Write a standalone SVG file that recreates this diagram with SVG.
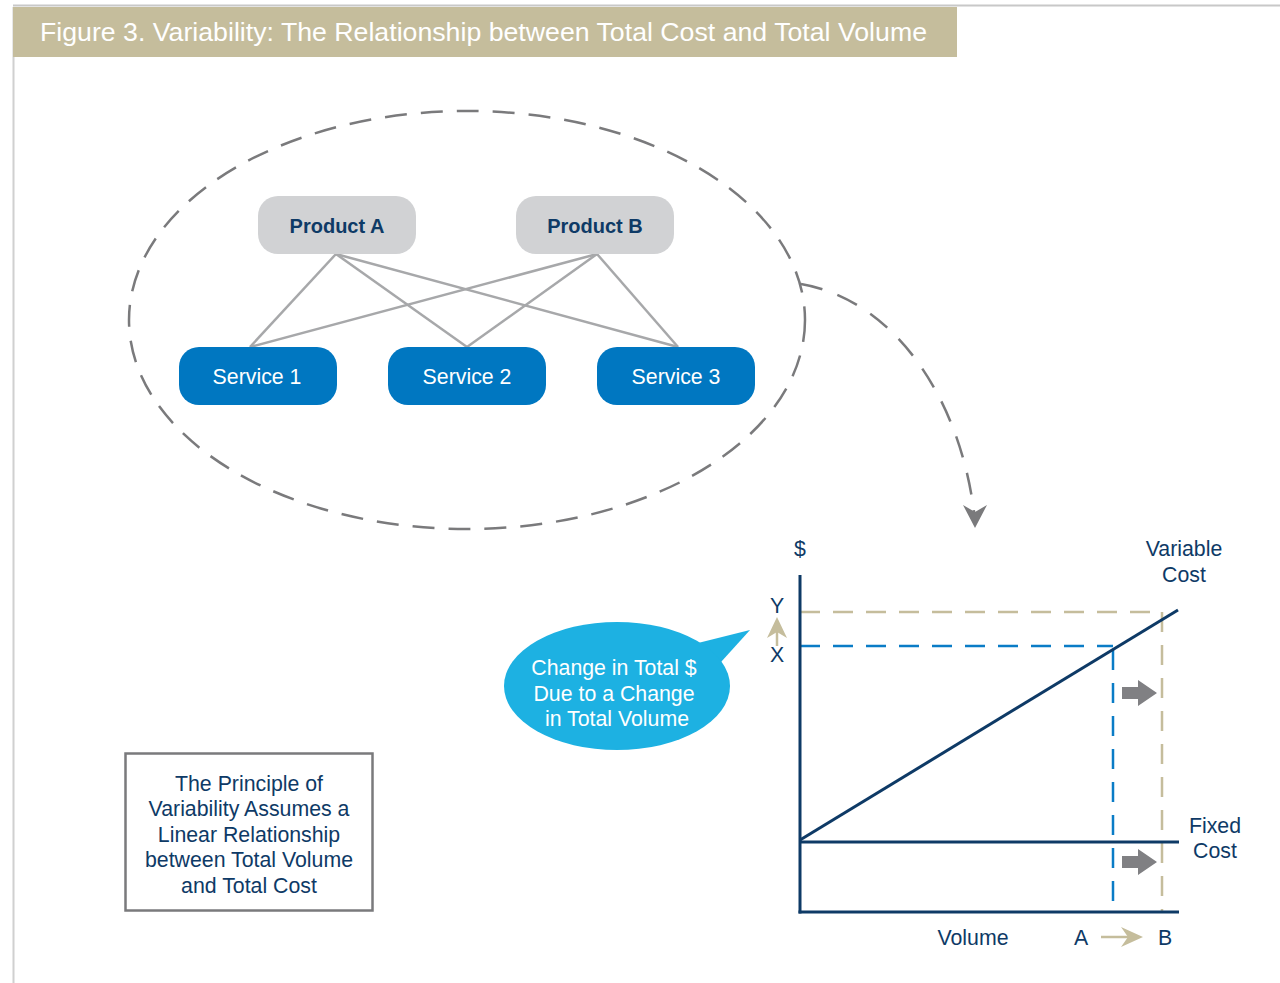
<svg xmlns="http://www.w3.org/2000/svg" width="1280" height="983" viewBox="0 0 1280 983">
<style>
text{font-family:"Liberation Sans",Arial,sans-serif}
.nv{fill:#0E3A66;font-size:21.3px;text-anchor:middle}
.wt{fill:#fff;font-size:21.3px;text-anchor:middle}
.pt{fill:#0E3A66;font-size:20px;font-weight:bold;text-anchor:middle}
.prod{fill:#D1D2D4}
.svc{fill:#0077C1}
.link{stroke:#A7A8AA;stroke-width:2.5;fill:none}
.ax{stroke:#0E3A66;stroke-width:3;fill:none}
</style>
<rect width="1280" height="983" fill="#fff"/>
<g id="frame">
<line x1="13" y1="5.5" x2="1280" y2="5.5" stroke="#C8C8C8" stroke-width="2"/>
<line x1="13.5" y1="7" x2="13.5" y2="983" stroke="#D0D0D0" stroke-width="2"/>
<rect x="13" y="7" width="944" height="50" fill="#C5BD9C"/>
<text x="40" y="41" fill="#fff" font-size="25.5" textLength="887" lengthAdjust="spacingAndGlyphs">Figure 3. Variability: The Relationship between Total Cost and Total Volume</text>
</g>
<g id="connectors">
<ellipse cx="467" cy="320" rx="338" ry="209" fill="none" stroke="#7A7A7C" stroke-width="2.5" stroke-dasharray="22 14"/>
<path d="M801 284 C895 300 962 400 975 520" fill="none" stroke="#7A7A7C" stroke-width="2.5" stroke-dasharray="22 16"/>
<path d="M963 505 L975 528 L987 505 L975 512 Z" fill="#7A7A7C"/>
<line class="link" x1="336" y1="254" x2="250" y2="347"/>
<line class="link" x1="336" y1="254" x2="467" y2="347"/>
<line class="link" x1="336" y1="254" x2="678" y2="347"/>
<line class="link" x1="597" y1="254" x2="250" y2="347"/>
<line class="link" x1="597" y1="254" x2="467" y2="347"/>
<line class="link" x1="597" y1="254" x2="678" y2="347"/>
</g>
<g id="productA"><rect class="prod" x="258" y="196" width="158" height="58" rx="20"/><text class="pt" x="337" y="233">Product A</text></g>
<g id="productB"><rect class="prod" x="516" y="196" width="158" height="58" rx="20"/><text class="pt" x="595" y="233">Product B</text></g>
<g id="service1"><rect class="svc" x="179" y="347" width="158" height="58" rx="20"/><text class="wt" x="257" y="384">Service 1</text></g>
<g id="service2"><rect class="svc" x="388" y="347" width="158" height="58" rx="20"/><text class="wt" x="467" y="384">Service 2</text></g>
<g id="service3"><rect class="svc" x="597" y="347" width="158" height="58" rx="20"/><text class="wt" x="676" y="384">Service 3</text></g>
<g id="principle">
<rect x="125.5" y="753.5" width="247" height="157" fill="#fff" stroke="#7A7A7C" stroke-width="2.5"/>
<text class="nv" x="249" y="791">The Principle of</text>
<text class="nv" x="249" y="816">Variability Assumes a</text>
<text class="nv" x="249" y="842">Linear Relationship</text>
<text class="nv" x="249" y="867">between Total Volume</text>
<text class="nv" x="249" y="893">and Total Cost</text>
</g>
<g id="bubble">
<path d="M698 643 L750 630 L721 662 Z" fill="#1DB1E2"/>
<ellipse cx="617" cy="686" rx="113" ry="64" fill="#1DB1E2"/>
<text class="wt" x="614" y="675">Change in Total $</text>
<text class="wt" x="614" y="701">Due to a Change</text>
<text class="wt" x="617" y="726">in Total Volume</text>
</g>
<g id="chart">
<line x1="800" y1="612" x2="1162" y2="612" stroke="#C5BD9C" stroke-width="2.5" stroke-dasharray="20 13"/>
<line x1="1162" y1="612" x2="1162" y2="912" stroke="#C5BD9C" stroke-width="2.5" stroke-dasharray="20 13"/>
<line x1="800" y1="646" x2="1113" y2="646" stroke="#0A7CC6" stroke-width="2.5" stroke-dasharray="20 13"/>
<line x1="1113" y1="646" x2="1113" y2="912" stroke="#0A7CC6" stroke-width="2.5" stroke-dasharray="20 13" stroke-dashoffset="-4"/>
<line class="ax" x1="800" y1="575" x2="800" y2="913.5"/>
<line class="ax" x1="798.5" y1="912" x2="1179" y2="912"/>
<line class="ax" x1="800" y1="842" x2="1179" y2="842"/>
<line class="ax" x1="800" y1="840" x2="1178" y2="610"/>
<path d="M1122 687 H1138 V680 L1157 693 L1138 706 V699 H1122 Z" fill="#808083"/>
<path d="M1122 856 H1138 V849 L1157 862 L1138 875 V868 H1122 Z" fill="#808083"/>
<line x1="1101" y1="937" x2="1130" y2="937" stroke="#C5BD9C" stroke-width="2.5"/>
<path d="M1121 927 L1143 937 L1121 947 L1128 937 Z" fill="#C5BD9C"/>
<line x1="777" y1="646" x2="777" y2="628" stroke="#C5BD9C" stroke-width="2.5"/>
<path d="M767 638 L777 617 L787 638 L777 632 Z" fill="#C5BD9C"/>
<text class="nv" x="800" y="556">$</text>
<text class="nv" x="1184" y="556">Variable</text>
<text class="nv" x="1184" y="582">Cost</text>
<text class="nv" x="777" y="613">Y</text>
<text class="nv" x="777" y="662">X</text>
<text class="nv" x="1215" y="833">Fixed</text>
<text class="nv" x="1215" y="858">Cost</text>
<text class="nv" x="973" y="945">Volume</text>
<text class="nv" x="1081" y="945">A</text>
<text class="nv" x="1165" y="945">B</text>
</g>
</svg>
